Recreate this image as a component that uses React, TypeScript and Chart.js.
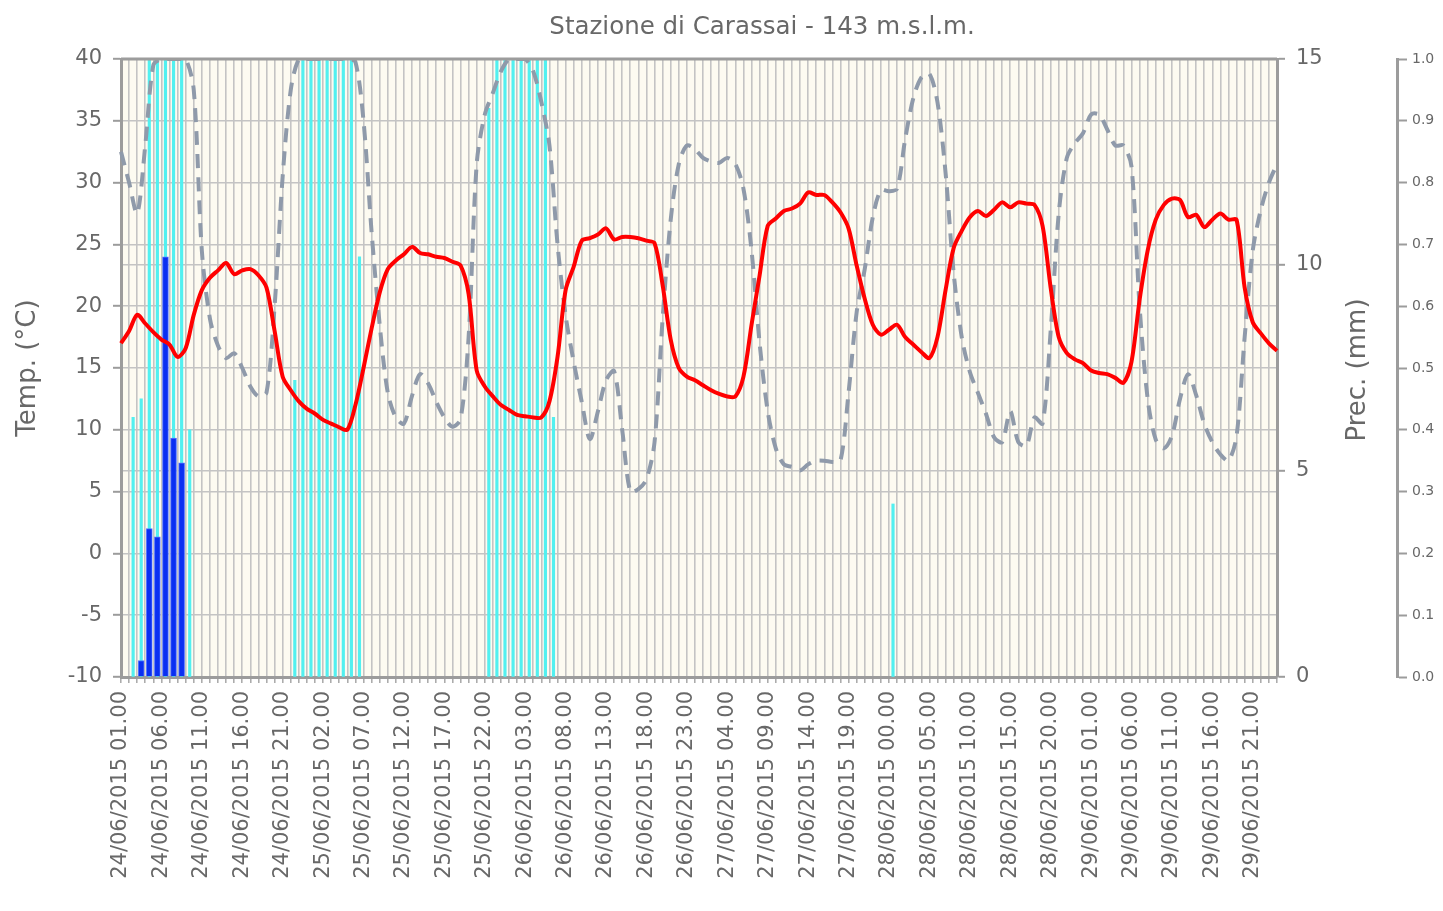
import { useEffect, useRef } from "react";
import { Chart, registerables } from "chart.js";

Chart.register(...registerables);

const FONT = "'DejaVu Sans', Verdana, sans-serif";

const TITLE = "Stazione di Carassai - 143 m.s.l.m.";
const Y_TITLE = "Temp. (°C)";
const Y1_TITLE = "Prec. (mm)";

// hourly categories: 24/06/2015 01.00 ... 30/06/2015 00.00
const hourLabels: string[] = [];
for (let i = 0; i < 144; i++) {
  const t = i + 1;
  const day = 24 + Math.floor(t / 24);
  const hour = t % 24;
  hourLabels.push(`${day}/06/2015 ${String(hour).padStart(2, "0")}.00`);
}
// hourly intervals used by the bar series (one per hour between two readings)
const intervalLabels = hourLabels.slice(0, 143);

// Temperature (°C), hourly
const temperatura = [
  17.0, 18.0, 19.3, 18.6, 17.9, 17.3, 16.9, 15.9, 16.6, 19.3,
  21.3, 22.3, 22.9, 23.5, 22.6, 22.9, 23.0, 22.5, 21.5, 18.0,
  14.3, 13.2, 12.3, 11.7, 11.3, 10.8, 10.5, 10.2, 10.0, 12.0,
  15.0, 18.2, 21.1, 23.0, 23.7, 24.2, 24.8, 24.3, 24.2, 24.0,
  23.9, 23.6, 23.3, 21.0, 14.8, 13.5, 12.7, 12.0, 11.6, 11.2,
  11.1, 11.0, 11.0, 12.3, 15.9, 21.3, 23.2, 25.3, 25.5, 25.8,
  26.3, 25.4, 25.6, 25.6, 25.5, 25.3, 25.1, 21.7, 17.3, 15.0,
  14.3, 14.0, 13.6, 13.2, 12.9, 12.7, 12.7, 14.3, 18.5, 22.5,
  26.5, 27.1, 27.7, 27.9, 28.3, 29.2, 29.0, 29.0, 28.4, 27.6,
  26.3, 23.3, 20.6, 18.5, 17.7, 18.1, 18.5, 17.5, 16.9, 16.3,
  15.8, 17.5, 21.3, 24.7, 26.1, 27.2, 27.7, 27.3, 27.8, 28.4,
  28.0, 28.4, 28.3, 28.2, 26.5, 21.5, 17.5, 16.2, 15.7, 15.4,
  14.8, 14.6, 14.5, 14.2, 13.8, 15.5, 20.5, 24.5, 27.0, 28.2,
  28.7, 28.6, 27.2, 27.4, 26.4, 27.0, 27.5, 27.0, 27.0, 21.5,
  18.7, 17.8, 17.0, 16.4,
];

// Relative humidity (fraction, far right axis), hourly
const umidita = [
  0.85, 0.80, 0.75, 0.86, 0.99, 1.00, 1.00, 1.00, 1.00, 0.95,
  0.69, 0.58, 0.536, 0.516, 0.524, 0.50, 0.47, 0.454, 0.46, 0.60,
  0.81, 0.95, 1.00, 1.00, 1.00, 1.00, 1.00, 1.00, 1.00, 0.995,
  0.90, 0.72, 0.57, 0.46, 0.42, 0.41, 0.455, 0.49, 0.475, 0.445,
  0.42, 0.405, 0.417, 0.55, 0.83, 0.91, 0.945, 0.98, 1.00, 1.00,
  1.00, 0.98, 0.93, 0.86, 0.70, 0.585, 0.51, 0.445, 0.385, 0.43,
  0.48, 0.495, 0.40, 0.30, 0.304, 0.32, 0.38, 0.58, 0.74, 0.83,
  0.86, 0.854, 0.84, 0.834, 0.832, 0.84, 0.83, 0.79, 0.69, 0.54,
  0.43, 0.37, 0.344, 0.34, 0.334, 0.344, 0.35, 0.35, 0.348, 0.35,
  0.46, 0.59, 0.66, 0.744, 0.788, 0.786, 0.79, 0.87, 0.936, 0.97,
  0.976, 0.93, 0.816, 0.654, 0.55, 0.494, 0.46, 0.426, 0.388, 0.38,
  0.43, 0.38, 0.374, 0.42, 0.41, 0.56, 0.75, 0.84, 0.864, 0.88,
  0.91, 0.91, 0.886, 0.86, 0.86, 0.826, 0.60, 0.45, 0.384, 0.37,
  0.39, 0.45, 0.49, 0.456, 0.41, 0.38, 0.36, 0.35, 0.39, 0.55,
  0.69, 0.756, 0.80, 0.83,
];

// Precipitation (mm): hour-interval index and amount
const precOre = [2, 3, 4, 5, 6, 7];
const precMm = [0.4, 3.6, 3.4, 10.2, 5.8, 5.2];

// Leaf wetness (0-1, far right axis): hour-interval index and value
const bagnOre = [1, 2, 3, 4, 5, 6, 7, 8, 21, 22, 23, 24, 25, 26, 27, 28, 29, 45, 46, 47, 48, 49, 50, 51, 52, 53, 95];
const bagnVal = [0.42, 0.45, 1, 1, 1, 1, 1, 0.40, 0.48, 1, 1, 1, 1, 1, 1, 1, 0.68, 0.92, 1, 1, 1, 1, 1, 1, 1, 0.42, 0.28];

const tempTicks = [-10, -5, 0, 5, 10, 15, 20, 25, 30, 35, 40];

function sparse(idx: number[], vals: number[], n: number): (number | null)[] {
  const out: (number | null)[] = new Array(n).fill(null);
  idx.forEach((i, k) => {
    out[i] = vals[k];
  });
  return out;
}

const GRID = "#c4c4c4";
const AXIS = "#9c9c9c";
const TEXT = "#686868";

export default function App() {
  const ref = useRef<HTMLCanvasElement | null>(null);

  useEffect(() => {
    document.body.style.margin = "0";
    document.body.style.overflow = "hidden";
    const canvas = ref.current;
    if (!canvas) return;

    const decor = {
      id: "decor",
      beforeDraw(chart: any) {
        const { ctx, chartArea: a } = chart;
        ctx.save();
        ctx.fillStyle = "#ffffff";
        ctx.fillRect(0, 0, chart.width, chart.height);
        ctx.fillStyle = "#fdfbf1";
        ctx.fillRect(a.left, a.top, a.right - a.left, a.bottom - a.top);
        ctx.restore();
      },
      afterDatasetsDraw(chart: any) {
        const { ctx, chartArea: a } = chart;
        ctx.save();
        ctx.strokeStyle = AXIS;
        ctx.lineWidth = 3;
        ctx.beginPath();
        ctx.moveTo(a.left, a.top);
        ctx.lineTo(a.right, a.top);
        ctx.stroke();
        ctx.restore();
      },
      afterDraw(chart: any) {
        const { ctx } = chart;
        ctx.save();
        ctx.fillStyle = TEXT;
        ctx.textBaseline = "middle";
        ctx.textAlign = "center";
        ctx.font = `24.5px ${FONT}`;
        ctx.fillText(TITLE, 762, 28);

        ctx.font = `26px ${FONT}`;
        ctx.save();
        ctx.translate(28, 368);
        ctx.rotate(-Math.PI / 2);
        ctx.fillText(Y_TITLE, 0, 0);
        ctx.restore();

        ctx.save();
        ctx.translate(1358, 370);
        ctx.rotate(-Math.PI / 2);
        ctx.fillText(Y1_TITLE, 0, 0);
        ctx.restore();
        ctx.restore();
      },
    };

    const chart = new Chart(canvas, {
      data: {
        labels: hourLabels,
        datasets: [
          {
            type: "line",
            label: "Temperatura",
            data: temperatura,
            xAxisID: "x",
            yAxisID: "y",
            borderColor: "#ff0000",
            borderWidth: 4,
            pointRadius: 0,
            tension: 0.3,
            order: 1,
          },
          {
            type: "line",
            label: "Umidità",
            data: umidita,
            xAxisID: "x",
            yAxisID: "y2",
            borderColor: "#8f9aaa",
            borderWidth: 4,
            borderDash: [14, 9],
            pointRadius: 0,
            tension: 0.3,
            order: 2,
          },
          {
            type: "bar",
            label: "Precipitazione",
            data: sparse(precOre, precMm, intervalLabels.length),
            xAxisID: "x2",
            yAxisID: "y1",
            backgroundColor: "#0a2ff2",
            borderColor: "#5a78ff",
            borderWidth: 1,
            barThickness: 6,
            grouped: false,
            order: 3,
          },
          {
            type: "bar",
            label: "Bagnatura fogliare",
            data: sparse(bagnOre, bagnVal, intervalLabels.length),
            xAxisID: "x2",
            yAxisID: "y2",
            backgroundColor: "#52f0f0",
            barThickness: 2.5,
            grouped: false,
            order: 4,
          },
        ] as any,
      },
      options: {
        animation: false,
        responsive: true,
        maintainAspectRatio: false,
        layout: { padding: { top: 59, left: 0, right: 0, bottom: 0 } },
        plugins: {
          legend: { display: false },
          tooltip: { enabled: false },
          title: { display: false },
        },
        scales: {
          x: {
            type: "category",
            offset: false,
            grid: {
              color: GRID,
              lineWidth: 1.6,
              drawTicks: true,
              tickLength: 6,
              tickColor: "#a8a8a8",
              tickWidth: 1.5,
            },
            border: { display: true, color: AXIS, width: 3 },
            ticks: {
              autoSkip: false,
              maxRotation: 90,
              minRotation: 90,
              padding: 8,
              color: TEXT,
              font: { family: FONT, size: 21 },
              callback: function (this: any, v: any, i: number) {
                return i % 5 === 0 ? this.getLabelForValue(v) : "";
              },
            },
            afterFit: (s: any) => {
              s.height = 234;
            },
          },
          x2: {
            type: "category",
            labels: intervalLabels,
            offset: true,
            display: false,
            grid: { display: false },
          },
          y: {
            position: "left",
            min: -10,
            max: 40,
            afterBuildTicks: (s: any) => {
              s.ticks = tempTicks.map((v) => ({ value: v }));
            },
            grid: {
              color: GRID,
              lineWidth: 1.6,
              tickLength: 8,
              tickColor: AXIS,
              tickWidth: 2,
            },
            border: { display: true, color: AXIS, width: 3 },
            ticks: {
              padding: 11,
              color: TEXT,
              font: { family: FONT, size: 21 },
            },
            afterFit: (s: any) => {
              s.width = 121;
            },
          },
          y1: {
            position: "right",
            min: 0,
            max: 15,
            ticks: {
              stepSize: 5,
              padding: 11,
              color: TEXT,
              font: { family: FONT, size: 21 },
            },
            grid: {
              drawOnChartArea: true,
              color: GRID,
              lineWidth: 1.6,
              tickLength: 8,
              tickColor: AXIS,
              tickWidth: 2,
            },
            border: { display: true, color: AXIS, width: 3 },
            afterFit: (s: any) => {
              s.width = 120;
            },
          },
          y2: {
            position: "right",
            min: 0,
            max: 1,
            ticks: {
              stepSize: 0.1,
              padding: 5,
              color: TEXT,
              font: { family: FONT, size: 14 },
              callback: (v: any) => Number(v).toFixed(1),
            },
            grid: {
              drawOnChartArea: false,
              tickLength: 10,
              tickColor: AXIS,
              tickWidth: 2,
            },
            border: { display: true, color: AXIS, width: 3 },
            afterFit: (s: any) => {
              s.width = 46;
            },
          },
        },
      } as any,
      plugins: [decor],
    });

    return () => chart.destroy();
  }, []);

  return (
    <div style={{ position: "relative", width: 1443, height: 911 }}>
      <canvas ref={ref} />
    </div>
  );
}
